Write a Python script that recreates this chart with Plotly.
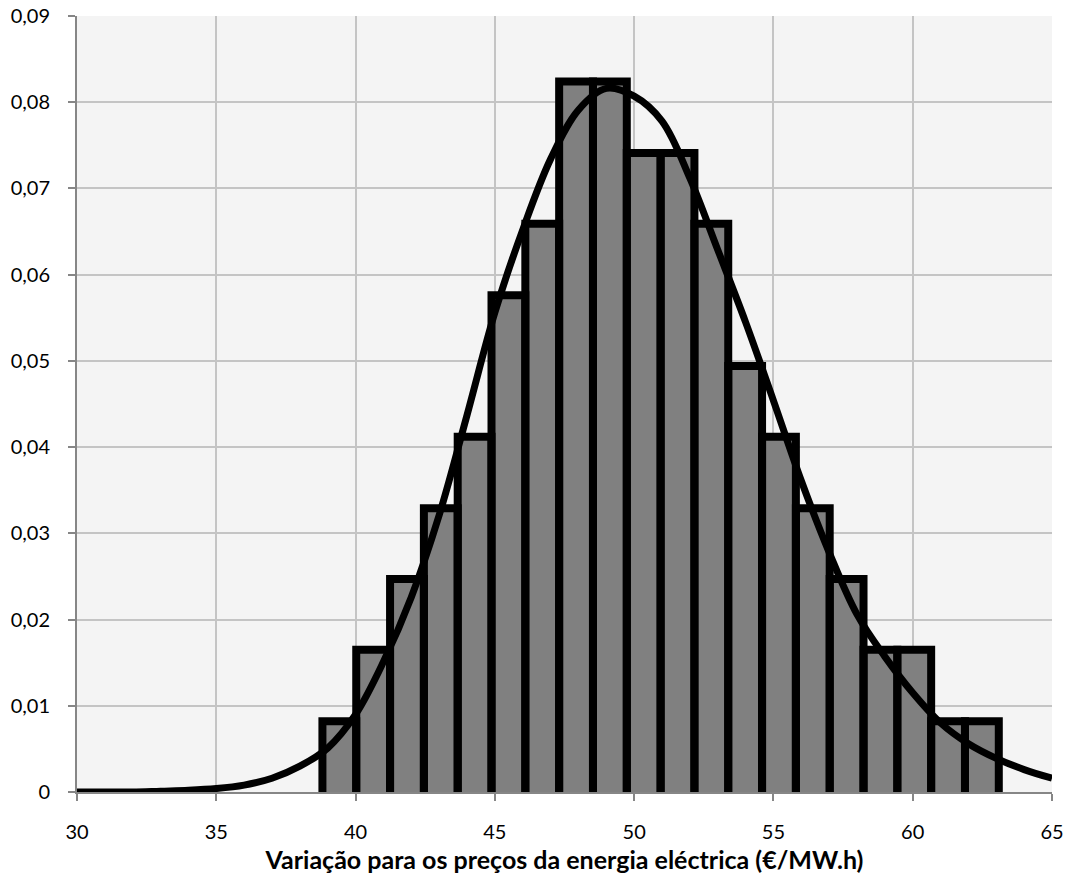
import plotly.graph_objects as go

# Histogram of simulated electricity prices (€/MW.h), normalised to a density
bin_start = 38.81
bin_width = 1.214
densities = [0.0082, 0.0165, 0.0247, 0.0329, 0.0412, 0.0576, 0.0659, 0.0824, 0.0824, 0.0741,
             0.0741, 0.0659, 0.0494, 0.0412, 0.0329, 0.0247, 0.0165, 0.0165, 0.0082, 0.0082]

# Fitted density curve, one value per €/MW.h
curve_x = [30, 31, 32, 33, 34, 35, 36, 37, 38, 39, 40, 41, 42, 43, 44, 45, 46, 47,
           48, 49, 50, 51, 52, 53, 54, 55, 56, 57, 58, 59, 60, 61, 62, 63, 64, 65]
curve_y = [0.0000, 0.0000, 0.0000, 0.0001, 0.0002, 0.0004, 0.0008, 0.0016, 0.0030, 0.0051,
           0.0090, 0.0151, 0.0226, 0.0321, 0.0437, 0.0556, 0.0652, 0.0734, 0.0791, 0.0816,
           0.0807, 0.0778, 0.0712, 0.0629, 0.0545, 0.0454, 0.0361, 0.0278, 0.0206, 0.0157,
           0.0115, 0.0080, 0.0056, 0.0039, 0.0026, 0.0016]

y_ticks = [0.0, 0.01, 0.02, 0.03, 0.04, 0.05, 0.06, 0.07, 0.08, 0.09]
y_tick_labels = ["0", "0,01", "0,02", "0,03", "0,04", "0,05", "0,06", "0,07", "0,08", "0,09"]
x_title = "Variação para os preços da energia eléctrica (€/MW.h)"

centers = [bin_start + bin_width * (i + 0.5) for i in range(len(densities))]

# Outline of each bar (left, top and right sides; the base sits on the axis)
ox, oy = [], []
for c, h in zip(centers, densities):
    left, right = c - bin_width / 2, c + bin_width / 2
    ox += [left, left, right, right, None]
    oy += [0, h, h, 0, None]

fig = go.Figure()
fig.add_trace(go.Bar(x=centers, y=densities, width=bin_width,
                     marker=dict(color="#808080", line=dict(width=0)),
                     showlegend=False))
fig.add_trace(go.Scatter(x=ox, y=oy, mode="lines",
                         line=dict(color="#000000", width=8),
                         hoverinfo="skip", showlegend=False))
fig.add_trace(go.Scatter(x=curve_x, y=curve_y, mode="lines",
                         line=dict(color="#000000", width=7, shape="spline", smoothing=1),
                         showlegend=False))

tick_font = dict(family="Lato", size=20, color="#000000")

fig.update_layout(
    width=1068, height=874,
    margin=dict(l=77, r=16, t=16, b=82),
    paper_bgcolor="#ffffff",
    plot_bgcolor="#f4f4f4",
    bargap=0,
    xaxis=dict(
        range=[30, 65], tick0=30, dtick=5, automargin=False,
        showgrid=True, gridcolor="#c4c4c4", gridwidth=2,
        showline=True, linecolor="#868686", linewidth=2,
        ticks="outside", ticklen=7, tickcolor="#868686", tickwidth=2,
        tickfont=tick_font, ticklabelstandoff=14,
        zeroline=False,
        title=dict(text=x_title, standoff=9,
                   font=dict(family="Lato", size=25, color="#000000", weight="bold")),
    ),
    yaxis=dict(
        range=[0, 0.09], tickvals=y_ticks, ticktext=y_tick_labels, automargin=False,
        showgrid=True, gridcolor="#c4c4c4", gridwidth=2,
        showline=True, linecolor="#868686", linewidth=2,
        ticks="outside", ticklen=7, tickcolor="#868686", tickwidth=2,
        tickfont=tick_font, ticklabelstandoff=14,
        zeroline=False,
    ),
)

fig.write_html("out.html")
